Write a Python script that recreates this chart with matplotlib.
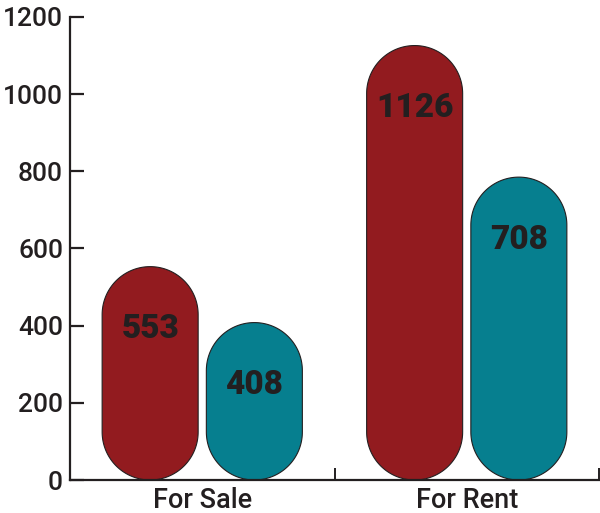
import numpy as np
import matplotlib
matplotlib.use("Agg")
import matplotlib.pyplot as plt
from matplotlib.patches import Polygon

# data
categories = ["For Sale", "For Rent"]
red_values = [553, 1126]
teal_values = [408, 708]          # printed labels
teal_heights = [408, 785]         # the teal "For Rent" pill is drawn taller than its label
y_ticks = [0, 200, 400, 600, 800, 1000, 1200]

red = "#921b1f"
teal = "#067f8f"
ink = "#231f20"

plt.rcParams['font.family'] = ['Roboto', 'DejaVu Sans']

fig = plt.figure(figsize=(6, 5.13), dpi=100)
ax = fig.add_axes([70 / 600, 33 / 513, 529 / 600, 463 / 513])
ax.set_xlim(-0.5, 1.5)
ax.set_ylim(0, 1200)

# screen aspect between y and x data units, so the pill ends are round
bbox = ax.get_window_extent()
asp = (1200 / bbox.height) / (2 / bbox.width)

bar_w = 0.363
shift = 0.197


def pill(xc, h, color):
    rx = bar_w / 2
    ry = rx * asp
    t = np.linspace(0, np.pi, 80)
    top = np.column_stack([xc + rx * np.cos(t), h - ry + ry * np.sin(t)])
    bot = np.column_stack([xc - rx * np.cos(t), ry - ry * np.sin(t)])
    ax.add_patch(Polygon(np.vstack([top, bot]), closed=True, facecolor=color,
                         edgecolor=ink, linewidth=0.8, zorder=2))


def label(xc, h, v):
    ax.annotate(str(v), (xc, h), xytext=(0, -45), textcoords='offset points',
                ha='center', va='center', fontsize=24, fontweight='black',
                color=ink, zorder=3)


x = np.arange(len(categories))
for i in range(len(categories)):
    pill(x[i] - shift, red_values[i], red)
    label(x[i] - shift, red_values[i], red_values[i])
    pill(x[i] + shift, teal_heights[i], teal)
    label(x[i] + shift, teal_heights[i], teal_values[i])

# axes styling
for s in ['top', 'right']:
    ax.spines[s].set_visible(False)
for s in ['left', 'bottom']:
    ax.spines[s].set_linewidth(1.6)
    ax.spines[s].set_color(ink)
    ax.spines[s].set_zorder(4)

ax.set_yticks(y_ticks)
ax.tick_params(axis='y', direction='in', length=10, width=1.6, color=ink,
               labelsize=19, pad=5, labelcolor=ink)
ax.set_xticks(x)
ax.set_xticklabels(categories)
ax.tick_params(axis='x', which='major', length=0, labelsize=19.5, pad=5, labelcolor=ink)
ax.set_xticks([0.5, 1.5], minor=True)
ax.tick_params(axis='x', which='minor', direction='in', length=8.5, width=1.4, color=ink)
for t in ax.get_yticklabels() + ax.get_xticklabels():
    t.set_fontweight('medium')

fig.savefig("out.png", dpi=100)
